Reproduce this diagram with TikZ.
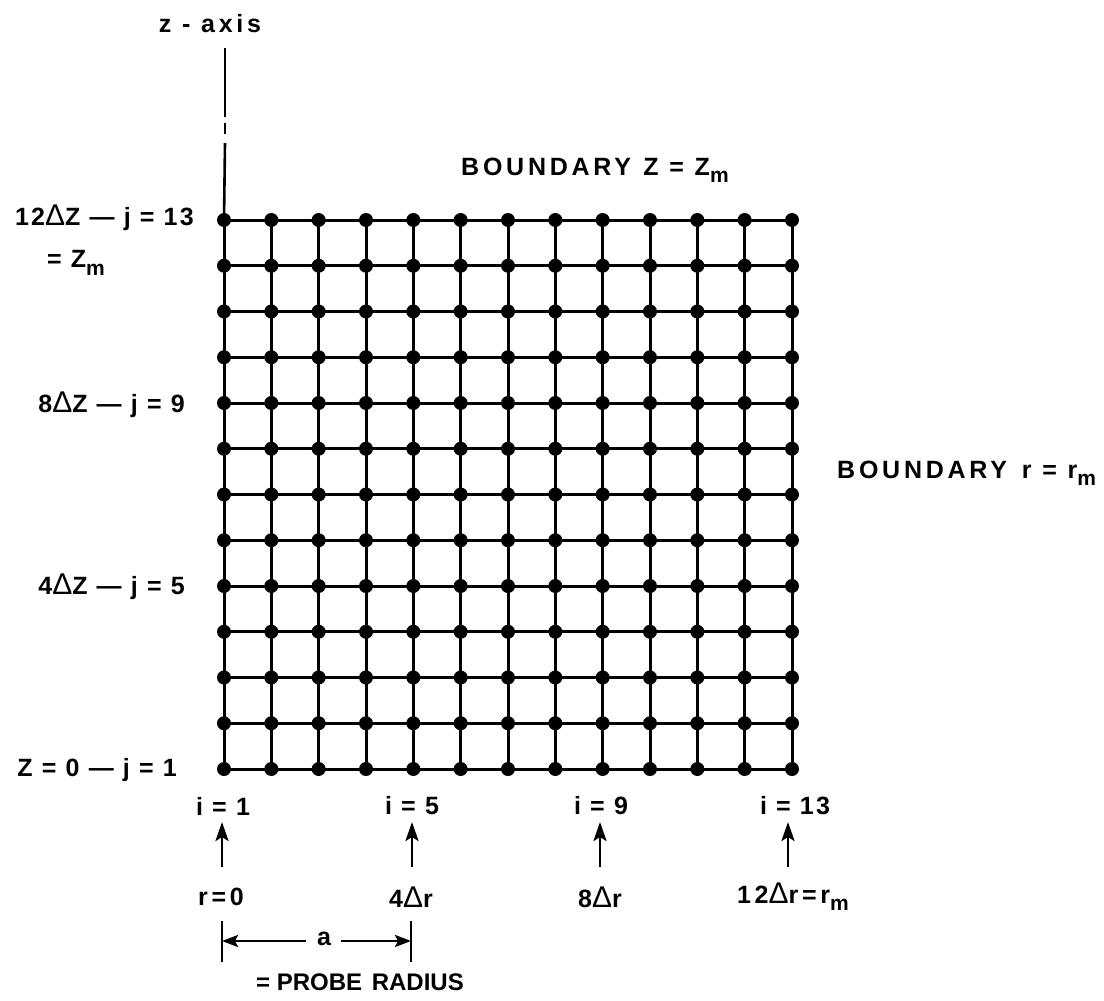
\documentclass[tikz,border=0pt]{standalone}
\usepackage{fontspec}
\setmainfont[LetterSpace=9]{Liberation Sans}
\newfontfamily\plainf{Liberation Sans}
\usetikzlibrary{arrows.meta}
\newcommand{\subm}{\raisebox{-0.55ex}{\fontsize{21}{21}\selectfont m}}
\newcommand{\dlt}{{\fontsize{30}{30}\selectfont\mdseries Δ}}
\begin{document}
\begin{tikzpicture}[x=1pt,y=-1pt,
  lab/.style={font=\fontsize{25}{27}\selectfont\bfseries, inner sep=0pt},
  wide/.style={font=\fontsize{25}{27}\selectfont\bfseries\addfontfeature{LetterSpace=15}, inner sep=0pt},
  gline/.style={line width=3pt},
  dot/.style={circle, fill=black, inner sep=0pt, minimum size=14pt},
  uparrow/.style={line width=2.8pt, -{Stealth[length=19pt,width=13pt,inset=4pt]}},
  dimarrow/.style={line width=2.6pt, -{Stealth[length=16pt,width=12pt,inset=3pt]}},
  tick/.style={line width=2.8pt},
  axisline/.style={line width=2.6pt}]
\useasboundingbox (0,0) rectangle (1104,1001);
% grid coordinates
\foreach \i in {0,...,12}{
  \foreach \j in {0,...,12}{
    \coordinate (g-\i-\j) at ({224+\i*47.333},{769-\j*45.75});
  }
}
\foreach \k in {0,...,12}{
  \draw[gline] (g-0-\k) -- (g-12-\k);
  \draw[gline] (g-\k-0) -- (g-\k-12);
}
\foreach \i in {0,...,12}{
  \foreach \j in {0,...,12}{
    \node[dot] (d-\i-\j) at (g-\i-\j) {};
  }
}
% z axis
\node[wide] (zax) at (210,24) {z - axis};
\coordinate (za1) at (225,48);
\coordinate (za2) at (225,117);
\coordinate (za3) at (225,123);
\coordinate (za4) at (225,134);
\coordinate (za5) at (225,143);
\draw[axisline] (za1) -- (za2);
\draw[axisline] (za3) -- (za4);
\draw[axisline] (za5) -- (g-0-12);
% boundary labels
\node[wide, anchor=west] (bz) at (461,170) {BOUNDARY\hspace{0.5em}Z = Z\subm};
\node[wide, anchor=west] (br) at (837,473) {BOUNDARY\hspace{0.6em}r = r\subm};
% left labels
\node[lab, anchor=east] (j13) at (194,218) {12\dlt Z — j = 13};
\node[lab] (zm) at (76,263) {= Z\subm};
\node[lab, anchor=east] (j9) at (185,405) {8\dlt Z — j = 9};
\node[lab, anchor=east] (j5) at (185,587) {4\dlt Z — j = 5};
\node[lab, anchor=east] (j1) at (177,770) {Z = 0 — j = 1};
% i labels
\node[lab] (i1) at (223,806) {i = 1};
\node[lab] (i5) at (412,806) {i = 5};
\node[lab] (i9) at (601,806) {i = 9};
\node[lab] (i13) at (795,806) {i = 13};
% r labels
\node[wide] (r0) at (221,897) {r=0};
\node[wide] (r4) at (411,897) {4\dlt r};
\node[wide] (r8) at (600,897) {8\dlt r};
\node[wide] (r12) at (793,897) {12\dlt r=r\subm};
% arrows
\coordinate (a1b) at (222,867); \coordinate (a1t) at (222,822);
\coordinate (a5b) at (412,867); \coordinate (a5t) at (412,822);
\coordinate (a9b) at (600,867); \coordinate (a9t) at (600,822);
\coordinate (a13b) at (788,867); \coordinate (a13t) at (788,822);
\draw[uparrow] (a1b) -- (a1t);
\draw[uparrow] (a5b) -- (a5t);
\draw[uparrow] (a9b) -- (a9t);
\draw[uparrow] (a13b) -- (a13t);
% probe radius dimension
\coordinate (t1a) at (222,921); \coordinate (t1b) at (222,962);
\coordinate (t2a) at (411,921); \coordinate (t2b) at (411,962);
\draw[tick] (t1a) -- (t1b);
\draw[tick] (t2a) -- (t2b);
\node[lab] (a) at (324,939) {a};
\coordinate (L) at (222,941); \coordinate (R) at (411,941);
\coordinate (al) at (306,941); \coordinate (ar) at (341,941);
\draw[dimarrow] (al) -- (L);
\draw[dimarrow] (ar) -- (R);
\node[font=\plainf\fontsize{24}{26}\selectfont\bfseries, inner sep=0pt, anchor=west] (probe) at (256,982) {= PROBE\hspace{0.4em}RADIUS};
\end{tikzpicture}
\end{document}
